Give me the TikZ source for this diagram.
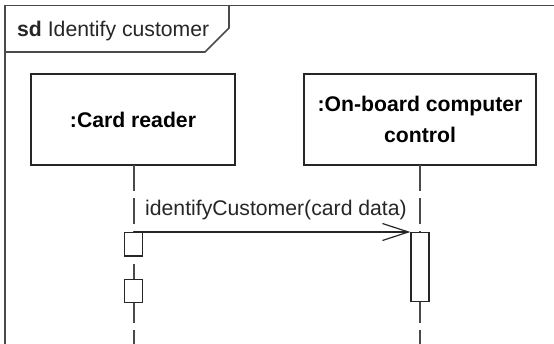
\documentclass[tikz,border=0pt]{standalone}
\usepackage{fontspec}
\setmainfont{Liberation Sans}
\usetikzlibrary{arrows.meta}
\definecolor{ink}{HTML}{262626}
\definecolor{framec}{HTML}{4A4A4A}
\tikzset{
  framestyle/.style={draw=framec, line width=1.7pt},
  objbox/.style={draw=ink, line width=1.3pt, fill=white, minimum width=204pt, minimum height=91pt, inner sep=0pt, align=center, font=\fontsize{21.2pt}{30.5pt}\selectfont\bfseries},
  actbox/.style={draw=ink, line width=1.3pt, fill=white, minimum width=18pt, inner sep=0pt},
  lifeline/.style={draw=framec, line width=1.4pt, dash pattern=on 26pt off 7pt},
  msg/.style={draw=ink, line width=1.2pt, -{Straight Barb[length=26pt, width=17pt, line width=1.2pt]}},
  lbl/.style={font=\fontsize{21.2pt}{24pt}\selectfont, text=ink, inner sep=0pt}
}
\begin{document}
\begin{tikzpicture}[x=1pt, y=-1pt]
\useasboundingbox[fill=white] (0,0) rectangle (554,344);
% frame
\coordinate (ftl) at (5,5.5);
\coordinate (ftr) at (554,5.5);
\coordinate (fbl) at (5,344);
\draw[framestyle] (ftr) -- (ftl) -- (fbl);
\coordinate (t1) at (229,5.5);
\coordinate (t2) at (229,28);
\coordinate (t3) at (205,52);
\coordinate (t4) at (5,52);
\draw[framestyle, line join=miter] (t1) -- (t2) -- (t3) -- (t4);
\node[lbl, anchor=base west] (title) at (17,37) {\textbf{sd} Identify customer};
% lifelines
\coordinate (l1end) at (134,344);
\coordinate (l2end) at (420,344);
\node[objbox] (card) at (133,119.5) {:Card reader};
\node[objbox, minimum width=232pt] (obc) at (420,119.5) {:On-board computer\\control};
\draw[lifeline] (134,165) -- (l1end);
\draw[lifeline] (420,165) -- (l2end);
% activations
\node[actbox, minimum height=23.5pt, anchor=north] (a1) at (133.5,232) {};
\node[actbox, minimum height=23pt, anchor=north] (a2) at (133.5,278.7) {};
\node[actbox, minimum height=69pt, anchor=north] (a3) at (420,232) {};
% message
\draw[msg] (a1.north) -- (a3.north west);
\node[lbl, anchor=base west] (m) at (145,216) {identifyCustomer(card data)};
\end{tikzpicture}
\end{document}
